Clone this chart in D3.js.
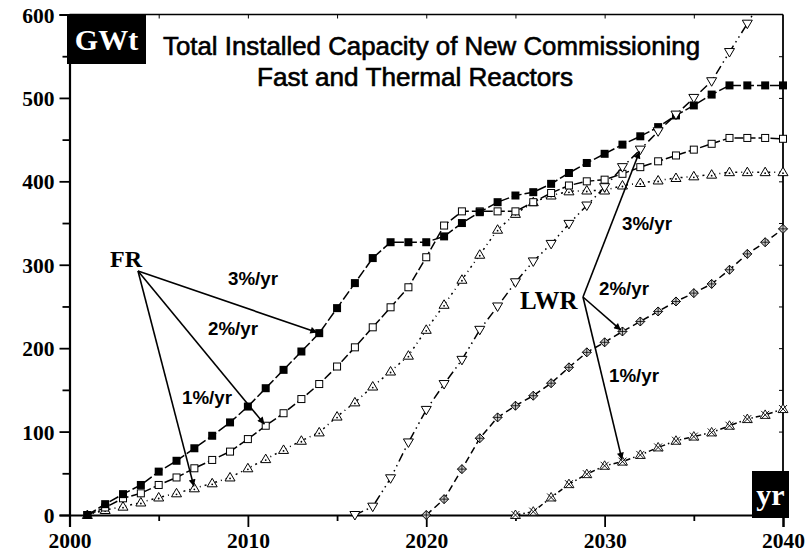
<!DOCTYPE html>
<html><head><meta charset="utf-8">
<script src="https://cdn.jsdelivr.net/npm/d3@7"></script>
<style>html,body{margin:0;padding:0;background:#fff;}svg{display:block;}</style>
</head><body>
<script>
// ---- data ----
const yTicks = [0,100,200,300,400,500,600];
const xTicks = [2000,2010,2020,2030,2040];
const fr3Start = 2001;
const fr3 = [0,13,25,36,52,65,80,95,111,130,152,174,196,218,248,278,308,327,327,327,334,350,363,375,383,387,397,410,422,433,444,454,465,479,491,504,515,515,515,515];
const fr2Start = 2001;
const fr2 = [0,9,20,26,36,45,56,66,76,91,107,122,139,157,178,201,225,249,273,309,347,364,364,364,364,375,386,395,400,402,409,417,424,431,438,445,452,452,452,451];
const fr1Start = 2001;
const fr1 = [0,6,10,15,21,26,32,38,45,56,67,78,89,99,118,135,154,172,191,222,252,282,312,342,361,375,383,388,389,389,395,398,401,404,406,408,411,411,411,411];
const lwr3Start = 2016;
const lwr3 = [0,10,44,87,126,157,186,222,250,279,304,325,349,371,393,417,438,460,480,500,520,555,589,625];
const lwr2Start = 2020;
const lwr2 = [0,19,55,92,117,131,143,158,177,195,207,220,232,244,256,266,277,294,313,327,343];
const lwr1Start = 2025;
const lwr1 = [0,4,21,37,49,59,64,72,81,89,94,99,107,115,120,127];
const titleLines = ["Total Installed Capacity of New Commissioning","Fast and Thermal Reactors"];
// arrows: [series, year, label]
const frArrows = [["fr3",2014,"3%/yr"],["fr2",2011,"2%/yr"],["fr1",2007,"1%/yr"]];
const lwrArrows = [["lwr3",2032,"3%/yr"],["lwr2",2031,"2%/yr"],["lwr1",2031,"1%/yr"]];

const W=811,H=553;
const svg=d3.select("body").append("svg").attr("width",W).attr("height",H);
const x=d3.scaleLinear().domain([2000,2040]).range([69.5,783]);
const y=d3.scaleLinear().domain([0,600]).range([515,14.5]);

const defs=svg.append("defs");
defs.append("clipPath").attr("id","clip").append("rect")
  .attr("x",x(2000)).attr("y",y(600)).attr("width",x(2040)-x(2000)+6).attr("height",y(0)-y(600)+6);
defs.append("marker").attr("id","arr").attr("viewBox","0 0 10 10").attr("refX",10).attr("refY",5)
  .attr("markerWidth",9).attr("markerHeight",7).attr("markerUnits","userSpaceOnUse").attr("orient","auto")
  .append("path").attr("d","M0,0L10,5L0,10Z").attr("fill","#000");

const serif="'Liberation Serif','Times New Roman',serif";
const sans="'Liberation Sans',Arial,sans-serif";

// frame
const frame=svg.append("g").attr("stroke","#000").attr("fill","none");
frame.append("line").attr("x1",x(2000)).attr("x2",x(2040)).attr("y1",y(600)).attr("y2",y(600)).attr("stroke-width",1.5);
frame.append("line").attr("x1",x(2040)).attr("x2",x(2040)).attr("y1",y(600)).attr("y2",y(0)).attr("stroke-width",1.8);

// axes
const yAxis=d3.axisLeft(y).tickValues(yTicks).tickSize(10).tickFormat(d3.format("d"));
const gy=svg.append("g").attr("transform",`translate(${x(2000)},0)`).call(yAxis);
gy.select(".domain").attr("stroke-width",2.2);
gy.selectAll(".tick line").attr("stroke-width",1.8);
gy.selectAll(".tick text").attr("font-family",serif).attr("font-weight","bold").attr("font-size",21.5).attr("x",-15).attr("dy","0.35em");
const gyMinor=svg.append("g").attr("transform",`translate(${x(2000)},0)`).call(d3.axisLeft(y).tickValues([50,150,250,350,450,550]).tickSize(7).tickFormat(""));
gyMinor.select(".domain").remove(); gyMinor.selectAll(".tick line").attr("stroke-width",1.8);

const xAxis=d3.axisBottom(x).tickValues(xTicks).tickSize(12).tickFormat(d3.format("d"));
const gx=svg.append("g").attr("transform",`translate(0,${y(0)})`).call(xAxis);
gx.select(".domain").attr("stroke-width",2.2);
gx.selectAll(".tick line").attr("stroke-width",1.8);
gx.selectAll(".tick text").attr("font-family",serif).attr("font-weight","bold").attr("font-size",21.5).attr("y",18);
const gxMinor=svg.append("g").attr("transform",`translate(0,${y(0)})`).call(d3.axisBottom(x).tickValues([2005,2015,2025,2035]).tickSize(6).tickFormat(""));
gxMinor.select(".domain").remove(); gxMinor.selectAll(".tick line").attr("stroke-width",1.8);
// mirrored small ticks
const gtop=svg.append("g").attr("transform",`translate(0,${y(600)})`).call(d3.axisBottom(x).tickValues([2005,2010,2015,2020,2025,2030,2035]).tickSize(4).tickFormat(""));
gtop.select(".domain").remove();
const gright=svg.append("g").attr("transform",`translate(${x(2040)},0)`).call(d3.axisLeft(y).tickValues([50,100,150,200,250,300,350,400,450,500,550]).tickSize(4).tickFormat(""));
gright.select(".domain").remove();

// series
function pts(start,vals){return vals.map((v,i)=>({yr:start+i,v}));}
const S={
  fr3:{data:pts(fr3Start,fr3),dash:"10,3"},
  fr2:{data:pts(fr2Start,fr2),dash:"9,3"},
  fr1:{data:pts(fr1Start,fr1),dash:"2,4,1,4"},
  lwr3:{data:pts(lwr3Start,lwr3),dash:"9,4,1.5,4,1.5,4"},
  lwr2:{data:pts(lwr2Start,lwr2),dash:"7,4"},
  lwr1:{data:pts(lwr1Start,lwr1),dash:"5,3,1.5,3"}
};
const line=d3.line().x(d=>x(d.yr)).y(d=>y(d.v));
const plot=svg.append("g").attr("clip-path","url(#clip)");
Object.entries(S).forEach(([k,s])=>{
  plot.append("path").attr("d",line(s.data)).attr("fill","none").attr("stroke","#000")
    .attr("stroke-width",1.5).attr("stroke-dasharray",s.dash);
});
function markers(key,draw){
  const g=plot.append("g");
  S[key].data.forEach(d=>{
    const mg=g.append("g").attr("transform",`translate(${x(d.yr)},${y(d.v)})`);
    draw(mg);
  });
}
markers("fr1",g=>{g.append("path").attr("d","M0,-5L5,3.5L-5,3.5Z").attr("fill","#fff").attr("stroke","#000").attr("stroke-width",1);
  g.append("circle").attr("r",0.9).attr("cy",1).attr("fill","#000");});
markers("fr2",g=>g.append("rect").attr("x",-3.5).attr("y",-3.5).attr("width",7).attr("height",7).attr("fill","#fff").attr("stroke","#000").attr("stroke-width",1));
markers("fr3",g=>g.append("rect").attr("x",-4).attr("y",-4).attr("width",8).attr("height",8).attr("fill","#000"));
markers("lwr3",g=>g.append("path").attr("d","M0,5L5,-3.5L-5,-3.5Z").attr("fill","#fff").attr("stroke","#000").attr("stroke-width",1));
markers("lwr2",g=>{g.append("path").attr("d","M0,-4.5L4.5,0L0,4.5L-4.5,0Z").attr("fill","#c8c8c8").attr("stroke","#000").attr("stroke-width",1);
  g.append("path").attr("d","M0,-4.5V4.5M-4.5,0H4.5").attr("stroke","#000").attr("stroke-width",0.8);});
markers("lwr1",g=>{g.append("path").attr("d","M0,-5L5,3.5L-5,3.5Z").attr("fill","#fff").attr("stroke","#000").attr("stroke-width",0.9);
  g.append("path").attr("d","M-4,-4L4,4M4,-4L-4,4").attr("stroke","#000").attr("stroke-width",0.9);});

// title
svg.append("text").attr("x",163).attr("y",55).attr("font-family",sans).attr("font-size",25.5)
  .attr("stroke","#000").attr("stroke-width",0.6)
  .attr("textLength",537).attr("lengthAdjust","spacingAndGlyphs").text(titleLines[0]);
svg.append("text").attr("x",257).attr("y",86).attr("font-family",sans).attr("font-size",25.5)
  .attr("stroke","#000").attr("stroke-width",0.6)
  .attr("textLength",316).attr("lengthAdjust","spacingAndGlyphs").text(titleLines[1]);

// GWt box
svg.append("rect").attr("x",67).attr("y",14).attr("width",79).attr("height",50).attr("fill","#000");
svg.append("text").attr("x",106.5).attr("y",50).attr("text-anchor","middle").attr("font-family",serif)
  .attr("font-weight","bold").attr("font-size",30).attr("fill","#fff").text("GWt");
// yr box
svg.append("rect").attr("x",752).attr("y",471).attr("width",37).attr("height",47).attr("fill","#000");
svg.append("text").attr("x",770.5).attr("y",505).attr("text-anchor","middle").attr("font-family",serif)
  .attr("font-weight","bold").attr("font-size",30).attr("fill","#fff").text("yr");

// annotations
function valAt(key,yr){return S[key].data.find(d=>d.yr===yr).v;}
svg.append("text").attr("x",110).attr("y",267).attr("font-family",serif).attr("font-weight","bold").attr("font-size",24).text("FR");
svg.append("text").attr("x",520).attr("y",309).attr("font-family",serif).attr("font-weight","bold").attr("font-size",25).text("LWR");
const ann=svg.append("g");
function arrow(ox,oy,key,yr){
  const tx=x(yr),ty=y(valAt(key,yr));
  const dx=tx-ox,dy=ty-oy,L=Math.hypot(dx,dy);
  const ex=tx-dx/L*2,ey=ty-dy/L*2;
  ann.append("line").attr("x1",ox).attr("y1",oy).attr("x2",ex).attr("y2",ey).attr("stroke","#000").attr("stroke-width",1.6).attr("marker-end","url(#arr)");
}
frArrows.forEach(a=>arrow(138,271,a[0],a[1]));
lwrArrows.forEach(a=>arrow(583,297,a[0],a[1]));
const rateLabels=[[228,285,frArrows[0][2]],[208,335,frArrows[1][2]],[182,404,frArrows[2][2]],
  [622,230,lwrArrows[0][2]],[599,295,lwrArrows[1][2]],[609,382,lwrArrows[2][2]]];
rateLabels.forEach(r=>svg.append("text").attr("x",r[0]).attr("y",r[1]).attr("font-family",sans).attr("font-weight","bold")
  .attr("font-size",18.5).attr("textLength",50).attr("lengthAdjust","spacingAndGlyphs").text(r[2]));
</script>
</body></html>
